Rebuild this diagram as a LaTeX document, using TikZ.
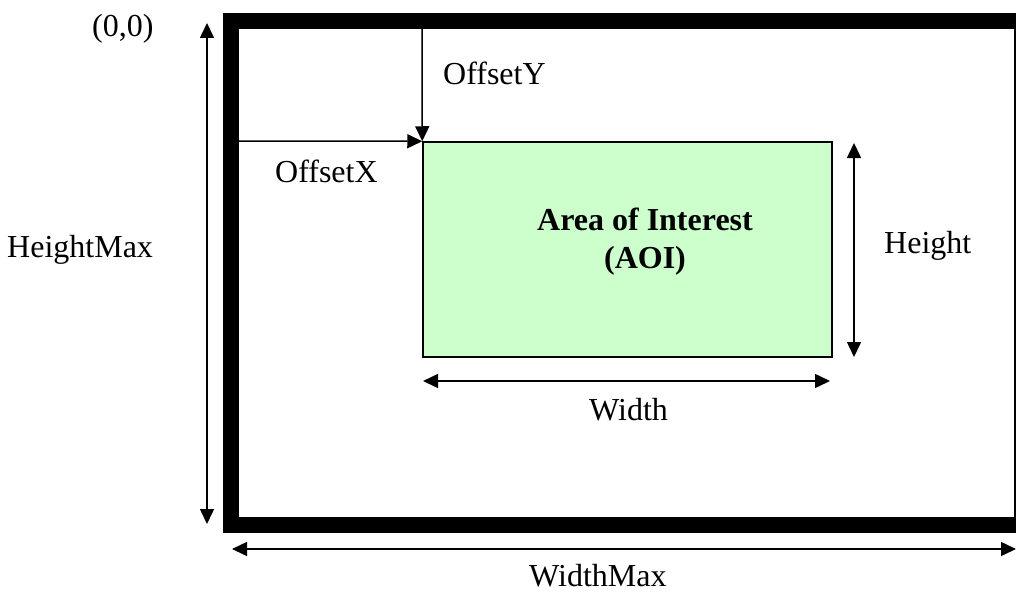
\documentclass[tikz,border=0pt]{standalone}
\usepackage{fontspec}
\setmainfont{Liberation Serif}
\usetikzlibrary{arrows.meta}
\definecolor{aoigreen}{HTML}{CCFFCC}
\begin{document}
\begin{tikzpicture}[x=1pt,y=-1pt,
  dimarrow/.style={line width=1.5pt,-{Triangle[length=15pt,width=14pt]}},
  dimboth/.style={line width=1.5pt,{Triangle[length=15pt,width=14pt]}-{Triangle[length=15pt,width=14pt]}},
  lbl/.style={inner sep=0pt,anchor=base west,font=\fontsize{32}{38}\selectfont},
  lblc/.style={inner sep=0pt,anchor=base,font=\fontsize{32}{38}\selectfont\bfseries}]
\useasboundingbox (0,0) rectangle (1016,591);
\clip (0,0) rectangle (1016,591);
% outer frame
\node[draw,line width=16pt,minimum width=791pt,minimum height=504pt,inner sep=0pt] (frame) at (626.5,273) {};
% area of interest
\node[draw,line width=1.5pt,fill=aoigreen,minimum width=409pt,minimum height=215pt,inner sep=0pt] (aoi) at (627.5,249.5) {};
% coordinates
\coordinate (oyA) at (422,29);
\coordinate (oxA) at (239,141);
\coordinate (hmT) at (207,23);
\coordinate (hmB) at (207,524);
\coordinate (wmL) at (232,549);
\coordinate (wmR) at (1016,549);
\coordinate (hT) at (854,143);
\coordinate (hB) at (854,357);
\coordinate (wL) at (423,381);
\coordinate (wR) at (830,381);
% arrows
\draw[dimarrow] (oyA) -- (aoi.north west);
\draw[dimarrow] (oxA) -- (aoi.north west);
\draw[dimboth] (hmT) -- (hmB);
\draw[dimboth] (wmL) -- (wmR);
\draw[dimboth] (hT) -- (hB);
\draw[dimboth] (wL) -- (wR);
% labels
\node[lbl] (origin) at (92,37) {(0,0)};
\node[lbl] (hmax) at (7,257) {HeightMax};
\node[lbl] (offy) at (443,85) {OffsetY};
\node[lbl] (offx) at (275,182) {OffsetX};
\node[lbl] (hlbl) at (884,253) {Height};
\node[lbl] (wlbl) at (589,420) {Width};
\node[lbl,text depth=0pt] (wmax) at (529,586) {WidthMax};
\node[lblc] (aoit1) at (645,230) {Area of Interest};
\node[lblc] (aoit2) at (645,268) {(AOI)};
\end{tikzpicture}
\end{document}
